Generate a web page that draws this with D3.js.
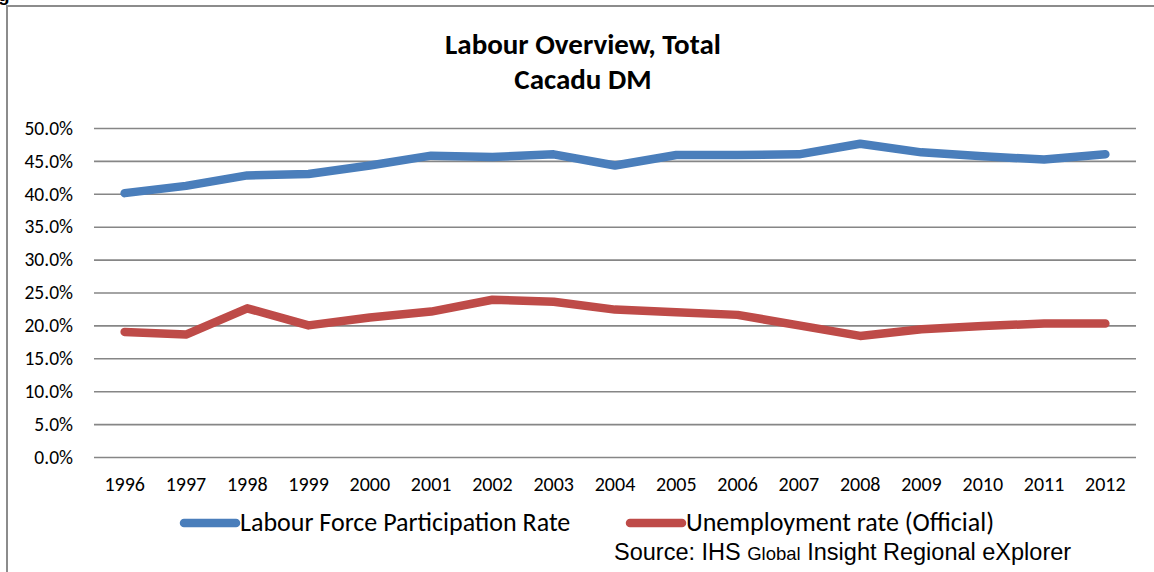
<!DOCTYPE html>
<html><head><meta charset="utf-8">
<script src="https://cdn.jsdelivr.net/npm/d3@7/dist/d3.min.js"></script>
<style>
html,body{margin:0;padding:0;background:#fff;}
svg{display:block;}
</style></head>
<body>
<svg id="chart" width="1154" height="572"></svg>
<script>
const years = ["1996","1997","1998","1999","2000","2001","2002","2003","2004","2005","2006","2007","2008","2009","2010","2011","2012"];
const participationRate = [40.1, 41.2, 42.8, 43.0, 44.3, 45.8, 45.6, 46.0, 44.3, 45.9, 45.9, 46.0, 47.6, 46.3, 45.7, 45.2, 46.0];
const unemploymentRate = [19.0, 18.6, 22.6, 20.0, 21.2, 22.1, 23.9, 23.6, 22.4, 22.0, 21.6, 20.0, 18.4, 19.4, 19.9, 20.3, 20.3];
const yTicks = [0, 5, 10, 15, 20, 25, 30, 35, 40, 45, 50];
const seriesNames = ["Labour Force Participation Rate", "Unemployment rate (Official)"];
const seriesColors = ["#4A7EBB", "#BE4B48"];
const titleLines = ["Labour Overview, Total", "Cacadu DM"];

const font = "Carlito, Calibri, Lato, sans-serif";
const svg = d3.select("#chart");
svg.append("rect").attr("width",1154).attr("height",572).attr("fill","#fff");

// clipped heading glyph in top-left corner
svg.append("text").attr("x",-2).attr("y",1).attr("font-family","Liberation Sans, Arial, sans-serif")
  .attr("font-weight","bold").attr("font-size",19).attr("fill","#000").text("g");

// frame
svg.append("path").attr("d","M7,572V6H1154").attr("fill","none").attr("stroke","#8c8c8c").attr("stroke-width",2);

const plotL = 94, plotR = 1136, plotT = 128, plotB = 457;
const x = d3.scaleBand().domain(years).range([plotL, plotR]);
const y = d3.scaleLinear().domain([0, 50]).range([plotB, plotT]);
const cx = d => x(d) + x.bandwidth()/2;

// title
svg.append("g").selectAll("text").data(titleLines).join("text")
  .attr("x",583).attr("y",(d,i)=>54+i*35).attr("text-anchor","middle")
  .attr("font-family",font).attr("font-weight","bold").attr("font-size",29).attr("fill","#000")
  .text(d=>d);

// y axis with gridlines
const yAxis = svg.append("g").attr("transform",`translate(${plotL},0)`)
  .call(d3.axisLeft(y).tickValues(yTicks).tickSize(-(plotR-plotL)).tickSizeOuter(0).tickPadding(21)
    .tickFormat(d => d.toFixed(1) + "%"));
yAxis.select(".domain").remove();
yAxis.selectAll(".tick line").attr("stroke","#868686").attr("stroke-width",1.6);
yAxis.selectAll(".tick text").attr("font-family",font).attr("font-size",19.5).attr("fill","#000");

// x axis
const xAxis = svg.append("g").attr("transform",`translate(0,${plotB})`)
  .call(d3.axisBottom(x).tickSize(0).tickPadding(20));
xAxis.select(".domain").remove();
xAxis.selectAll(".tick text").attr("font-family",font).attr("font-size",20).attr("fill","#000");

// lines
const line = d3.line().x((d,i)=>cx(years[i])).y(d=>y(d));
[participationRate, unemploymentRate].forEach((s, k) => {
  svg.append("path").datum(s).attr("d", line).attr("fill","none")
    .attr("stroke", seriesColors[k]).attr("stroke-width", 8.5)
    .attr("stroke-linecap","round").attr("stroke-linejoin","round");
});

// legend
const legendPos = [{x1:184,x2:236,y:523},{x1:630,x2:682,y:523}];
legendPos.forEach((p,k) => {
  svg.append("line").attr("x1",p.x1).attr("x2",p.x2).attr("y1",p.y).attr("y2",p.y)
    .attr("stroke",seriesColors[k]).attr("stroke-width",8.5).attr("stroke-linecap","round");
  svg.append("text").attr("x",p.x2+4).attr("y",p.y+7.5).attr("font-family",font).attr("font-size",26)
    .attr("fill","#000").text(seriesNames[k]);
});

// source
const src = svg.append("text").attr("x",614).attr("y",560).attr("font-family","Liberation Sans, Arial, sans-serif")
  .attr("font-size",23.5).attr("fill","#000");
src.append("tspan").text("Source: IHS ");
src.append("tspan").attr("font-size",18.5).text("Global");
src.append("tspan").text(" Insight Regional eXplorer");
</script>
</body></html>
